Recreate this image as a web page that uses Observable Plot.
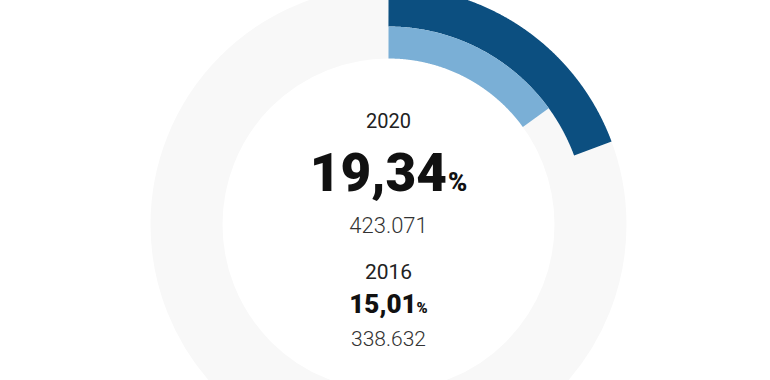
<!DOCTYPE html>
<html>
<head>
<meta charset="utf-8">
<script src="https://cdn.jsdelivr.net/npm/d3@7"></script>
<script src="https://cdn.jsdelivr.net/npm/@observablehq/plot@0.6"></script>
<style>
  html, body { margin: 0; padding: 0; background: #fff; overflow: hidden; }
  #chart svg { display: block; }
</style>
</head>
<body>
<div id="chart"></div>
<script>
// ---- data ----
const years = ["2020", "2016"];
const shares = [19.34, 15.01];     // percent
const counts = [423071, 338632];

// ---- styling / layout ----
const colors = ["#0c4f80", "#7aafd6"];
const trackColor = "#f8f8f8";
const W = 770, H = 380;
const cx = 388, cy = 224;           // pixel position of ring centre
const ringR = [218, 182];           // mid radius of each ring
const ringW = [40, 32];             // thickness of each ring
const font = "Roboto, 'Open Sans', sans-serif";

const es = d3.formatLocale({decimal: ",", thousands: ".", grouping: [3], currency: ["", "€"]});
const fmtPct = es.format(".2f");
const fmtInt = es.format(",d");

// arc geometry derived from the values
const arcPts = [];
years.forEach((yr, i) => {
  const a = shares[i] / 100 * 2 * Math.PI;
  const n = 240;
  for (let k = 0; k <= n; ++k) {
    const t = a * k / n;
    arcPts.push({year: yr, x: ringR[i] * Math.sin(t), y: ringR[i] * Math.cos(t)});
  }
});

const textMark = (str, dy, size, weight, color) =>
  Plot.text([str], {x: 0, y: 0, text: d => d, dy, lineAnchor: "bottom",
    fontSize: size, fontWeight: weight, fill: color, fontFamily: font});

const chart = Plot.plot({
  width: W, height: H,
  margin: 0,
  x: {domain: [-cx, W - cx], axis: null},
  y: {domain: [cy - H, cy], axis: null},
  color: {domain: years, range: colors},
  style: {fontFamily: font, background: "#fff", overflow: "hidden"},
  marks: [
    Plot.dot([0], {x: 0, y: 0, r: 202, stroke: trackColor, strokeWidth: 72, fill: "none"}),
    ...years.map((yr, i) => Plot.line(arcPts.filter(d => d.year === yr), {
      x: "x", y: "y", stroke: "year", strokeWidth: ringW[i],
      strokeLinecap: "butt", strokeLinejoin: "miter"
    })),
    textMark(years[0], 127 - cy, 20, 400, "#222"),
    textMark(fmtPct(shares[0]) + "%", 190 - cy, 53, 900, "#111"),
    textMark(fmtInt(counts[0]), 232 - cy, 22, 300, "#333"),
    textMark(years[1], 278 - cy, 21, 400, "#222"),
    textMark(fmtPct(shares[1]) + "%", 312 - cy, 26, 900, "#111"),
    textMark(fmtInt(counts[1]), 345 - cy, 21, 300, "#333")
  ]
});

// make the "%" sign smaller, as in the original
const pctSizes = {53: 26, 26: 15};
chart.querySelectorAll("text").forEach(t => {
  const s = t.textContent;
  if (s.endsWith("%")) {
    const fs = parseFloat(t.getAttribute("font-size") || t.parentNode.getAttribute("font-size"));
    const small = pctSizes[fs] || Math.round(fs * 0.5);
    t.textContent = s.slice(0, -1);
    const ts = document.createElementNS("http://www.w3.org/2000/svg", "tspan");
    ts.setAttribute("font-size", small);
    ts.setAttribute("dx", fs > 40 ? "1" : "0");
    ts.textContent = "%";
    t.appendChild(ts);
  }
});

document.getElementById("chart").appendChild(chart);
</script>
</body>
</html>
